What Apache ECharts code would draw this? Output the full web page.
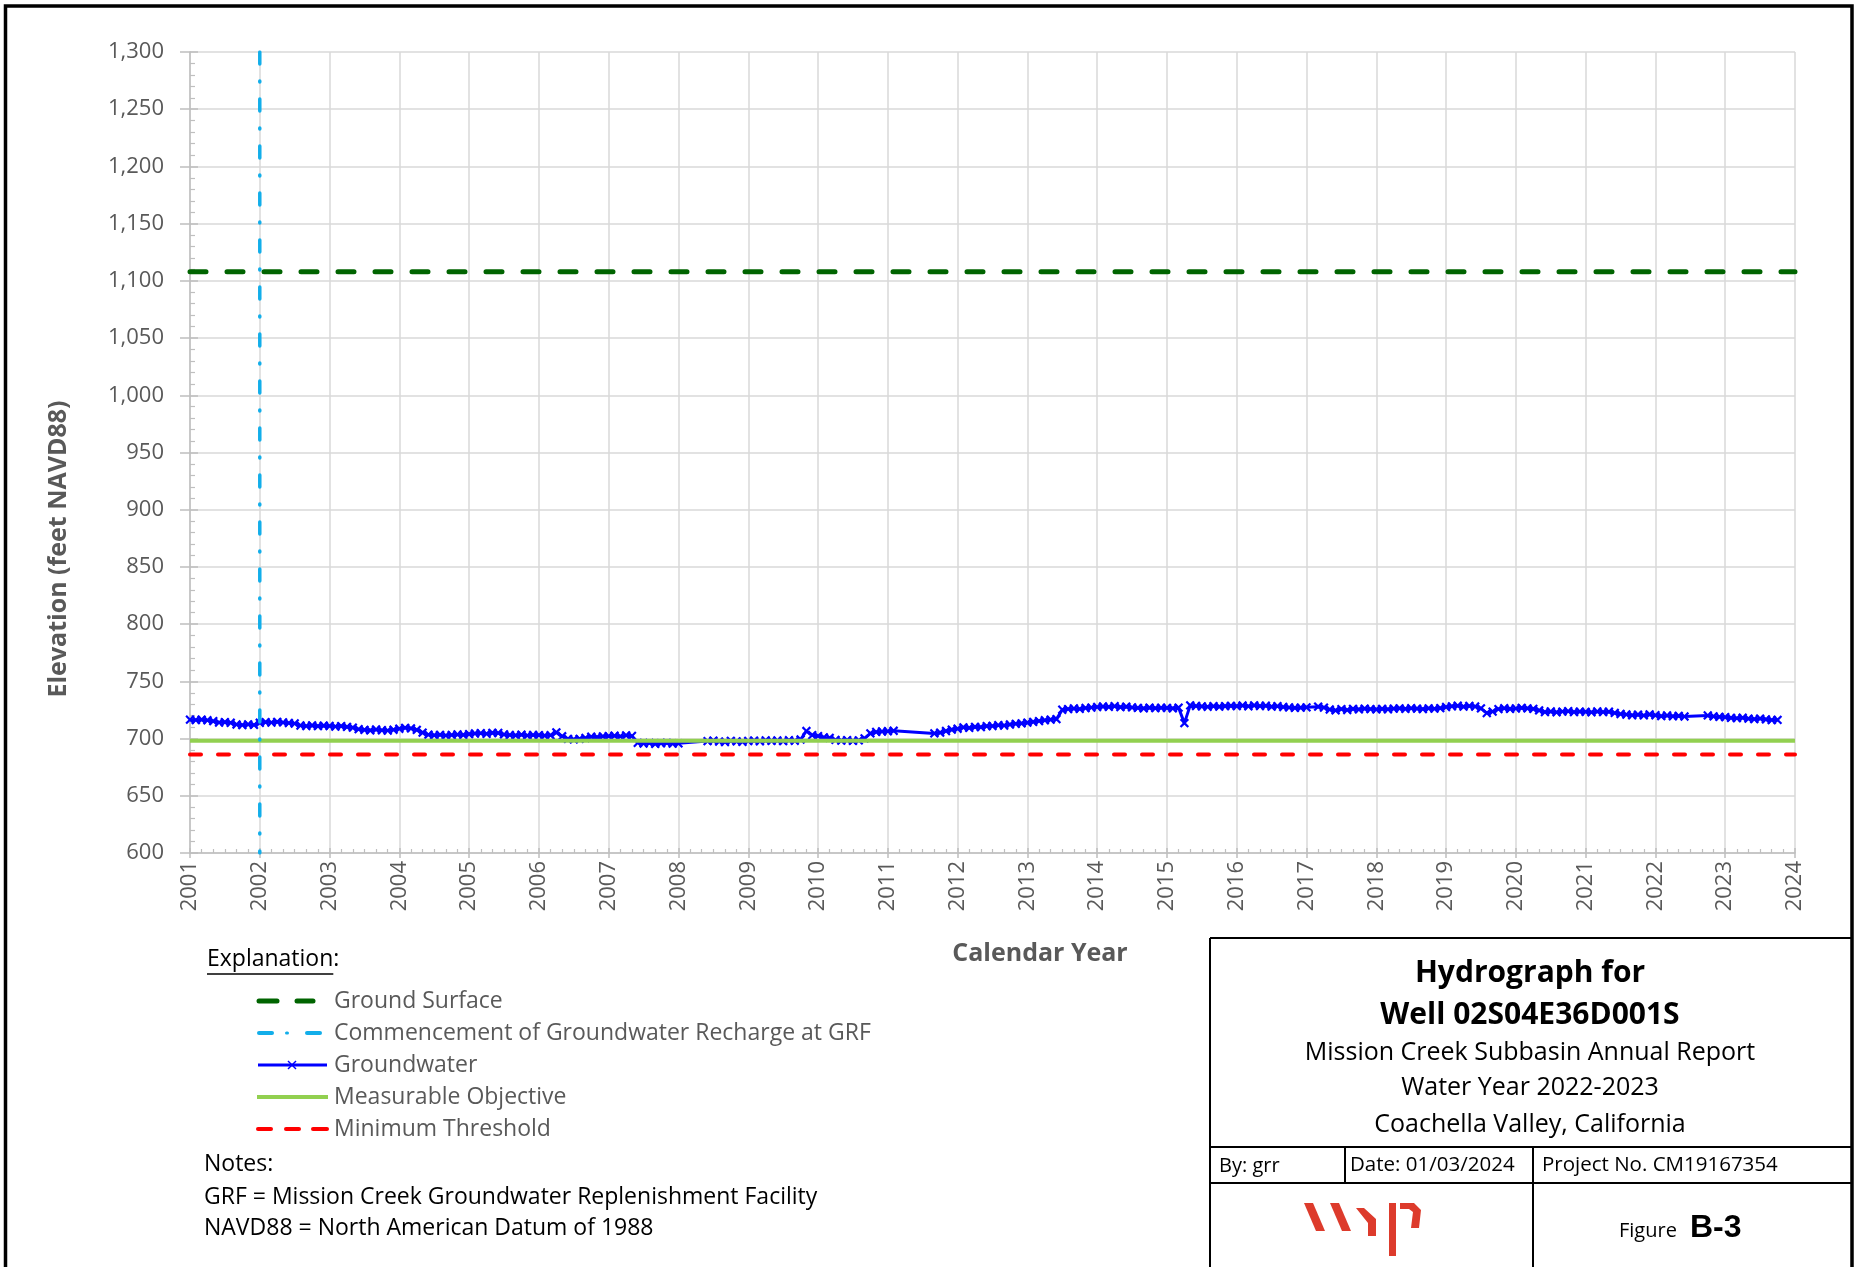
<!DOCTYPE html>
<html>
<head>
<meta charset="utf-8">
<script src="https://cdn.jsdelivr.net/npm/echarts@6/dist/echarts.min.js"></script>
<style>
html,body{margin:0;padding:0;background:#fff;}
#chart{width:1857px;height:1267px;}
</style>
</head>
<body>
<div id="chart"></div>
<script>
// ---------------- DATA ----------------
const xTickYears = [2001,2002,2003,2004,2005,2006,2007,2008,2009,2010,2011,2012,2013,2014,2015,2016,2017,2018,2019,2020,2021,2022,2023,2024];
const yTickValues = [600,650,700,750,800,850,900,950,1000,1050,1100,1150,1200,1250,1300];
const groundSurface = 1108;          // ft NAVD88
const measurableObjective = 698;     // ft NAVD88
const minimumThreshold = 686;        // ft NAVD88
const rechargeStartYear = 2002.0;    // commencement of recharge at GRF
const gwFirstYear = 2001;            // monthly readings start Jan 2001 (null = no reading)
const gwValues = [
  716.5,716.2,716.6,716.0,715.2,714.0,714.4,713.8,712.3,711.8,712.4,711.9, // 2001
  713.8,714.4,714.0,714.6,714.1,713.6,713.2,711.4,711.0,711.5,710.9,711.3, // 2002
  711.0,710.5,710.9,710.2,709.6,708.2,707.6,707.2,707.9,707.3,707.0,707.7, // 2003
  708.6,709.4,708.9,707.6,705.2,703.4,702.9,703.3,702.7,703.1,703.6,703.2, // 2004
  703.9,704.4,704.7,704.2,705.0,704.9,703.6,703.1,702.8,703.4,702.7,703.1, // 2005
  703.0,702.6,702.9,705.4,702.0,699.7,699.3,699.8,700.5,701.6,701.3,701.9, // 2006
  702.1,702.5,701.9,702.8,702.3,696.3,695.7,696.1,695.4,695.9,696.2,695.6, // 2007
  695.8,null,null,null,null,697.8,698.2,697.4,697.0,698.0,697.5,697.2,     // 2008
  697.9,698.2,697.6,698.4,698.0,698.3,697.7,698.5,698.1,699.2,706.6,703.0, // 2009
  702.2,701.0,700.6,698.8,698.2,698.6,698.0,698.4,700.2,704.5,705.8,706.2, // 2010
  706.4,706.8,null,null,null,null,null,null,704.5,705.2,706.6,707.8,       // 2011
  708.6,709.8,709.3,710.2,710.0,710.9,711.0,711.7,711.4,712.3,712.9,713.3, // 2012
  713.9,714.6,715.3,716.0,716.6,717.0,725.2,725.8,726.3,725.9,726.7,727.1, // 2013
  727.6,728.0,727.7,728.3,727.5,727.9,727.2,726.8,726.4,727.0,726.6,726.9, // 2014
  726.8,726.4,727.0,713.5,729.0,728.5,728.1,727.8,728.3,727.9,728.4,728.6, // 2015
  728.4,728.9,728.2,729.0,728.5,728.7,727.9,728.3,727.6,727.2,726.8,727.0, // 2016
  727.3,null,727.9,727.1,725.4,724.6,725.8,725.0,726.0,725.5,726.2,725.8,  // 2017
  725.5,726.0,725.6,726.2,726.4,726.0,726.5,726.2,725.8,726.4,726.1,726.6, // 2018
  727.6,728.2,728.7,727.9,728.5,728.0,726.4,722.3,723.6,725.8,726.5,726.0, // 2019
  726.3,726.8,726.4,726.0,724.6,723.2,723.7,723.0,723.6,723.9,723.2,723.6, // 2020
  723.4,723.0,723.7,723.2,723.5,722.4,721.5,721.0,720.4,720.9,720.2,721.1, // 2021
  720.4,719.6,720.2,719.5,719.8,719.3,null,null,null,720.2,719.4,719.0,    // 2022
  718.7,718.1,717.8,718.2,717.4,717.0,717.5,716.8,716.2,716.3,null,null    // 2023
];
const legendLabels = ['Ground Surface','Commencement of Groundwater Recharge at GRF','Groundwater','Measurable Objective','Minimum Threshold'];
const noteLines = ['Notes:','GRF = Mission Creek Groundwater Replenishment Facility','NAVD88 = North American Datum of 1988'];
const titleLines = ['Hydrograph for','Well 02S04E36D001S','Mission Creek Subbasin Annual Report','Water Year 2022-2023','Coachella Valley, California'];

// ---------------- BUILD ----------------
const xMin = xTickYears[0], xMax = xTickYears[xTickYears.length-1];
const yMin = yTickValues[0], yMax = yTickValues[yTickValues.length-1];
const gwData = [];
gwValues.forEach((v,i)=>{ if(v!==null) gwData.push([gwFirstYear + i/12, v]); });

const FONT = '"Open Sans", "Noto Sans", sans-serif';
const GRAY = '#595959';
const AXIS_GRAY = '#BFBFBF';
const GRID_GRAY = '#D9D9D9';
const cGS = '#006400', cRech = '#12AEEA', cGW = '#0000FF', cMO = '#92D050', cMT = '#FF0000';
const xMark = 'path://M4,0H6V4H10V6H6V10H4V6H0V4H4Z';

const chart = echarts.init(document.getElementById('chart'), null, {renderer:'canvas'});

function measure(text, font){
  const c = document.createElement('canvas').getContext('2d');
  c.font = font; return c.measureText(text).width;
}

const g = [];
// outer border
g.push({type:'rect', shape:{x:5.5,y:6,width:1846.5,height:1300}, style:{fill:null, stroke:'#000', lineWidth:3.5}, silent:true});
// axis titles
g.push({type:'text', x:59, y:549, rotation:Math.PI/2, style:{text:'Elevation (feet NAVD88)', font:'bold 25px '+FONT, fill:GRAY, textAlign:'center', textVerticalAlign:'middle'}});
g.push({type:'text', x:1040, y:954, style:{text:'Calendar Year', font:'bold 25px '+FONT, fill:GRAY, textAlign:'center', textVerticalAlign:'middle'}});
// explanation
const expFont = '23px '+FONT;
g.push({type:'text', x:207, y:959, style:{text:'Explanation:', font:expFont, fill:'#000', textAlign:'left', textVerticalAlign:'middle'}});
const expW = measure('Explanation', expFont);
g.push({type:'line', shape:{x1:207,y1:974,x2:207+expW,y2:974}, style:{stroke:'#000', lineWidth:1.5}});
const legY = [1001,1033,1065,1097,1129];
legendLabels.forEach((t,i)=>{
  g.push({type:'text', x:334, y:legY[i], style:{text:t, font:expFont, fill:GRAY, textAlign:'left', textVerticalAlign:'middle'}});
});
// legend samples
g.push({type:'line', shape:{x1:259,y1:legY[0],x2:277,y2:legY[0]}, style:{stroke:cGS, lineWidth:5, lineCap:'round'}});
g.push({type:'line', shape:{x1:297,y1:legY[0],x2:313,y2:legY[0]}, style:{stroke:cGS, lineWidth:5, lineCap:'round'}});
g.push({type:'line', shape:{x1:259,y1:legY[1],x2:272,y2:legY[1]}, style:{stroke:cRech, lineWidth:4, lineCap:'round'}});
g.push({type:'line', shape:{x1:286.5,y1:legY[1],x2:287.5,y2:legY[1]}, style:{stroke:cRech, lineWidth:3, lineCap:'round'}});
g.push({type:'line', shape:{x1:307,y1:legY[1],x2:320,y2:legY[1]}, style:{stroke:cRech, lineWidth:4, lineCap:'round'}});
g.push({type:'line', shape:{x1:258,y1:legY[2],x2:327,y2:legY[2]}, style:{stroke:cGW, lineWidth:3}});
g.push({type:'line', shape:{x1:288,y1:legY[2]-4,x2:296,y2:legY[2]+4}, style:{stroke:cGW, lineWidth:1.5}});
g.push({type:'line', shape:{x1:296,y1:legY[2]-4,x2:288,y2:legY[2]+4}, style:{stroke:cGW, lineWidth:1.5}});
g.push({type:'line', shape:{x1:257,y1:legY[3],x2:328,y2:legY[3]}, style:{stroke:cMO, lineWidth:4}});
[[258,271],[286,299],[313,327]].forEach(s=>g.push({type:'line', shape:{x1:s[0],y1:legY[4],x2:s[1],y2:legY[4]}, style:{stroke:cMT, lineWidth:4, lineCap:'round'}}));
// notes
const noteY = [1164,1197,1228];
noteLines.forEach((t,i)=>g.push({type:'text', x:204, y:noteY[i], style:{text:t, font:expFont, fill:'#000', textAlign:'left', textVerticalAlign:'middle'}}));
// title block frame
const L = {stroke:'#000', lineWidth:2};
g.push({type:'line', shape:{x1:1210,y1:938,x2:1852,y2:938}, style:L});
g.push({type:'line', shape:{x1:1210,y1:938,x2:1210,y2:1270}, style:L});
g.push({type:'line', shape:{x1:1210,y1:1147,x2:1852,y2:1147}, style:L});
g.push({type:'line', shape:{x1:1210,y1:1183,x2:1852,y2:1183}, style:L});
g.push({type:'line', shape:{x1:1345,y1:1147,x2:1345,y2:1183}, style:L});
g.push({type:'line', shape:{x1:1533,y1:1147,x2:1533,y2:1270}, style:L});
const tY = [973,1015,1053,1088,1125];
titleLines.forEach((t,i)=>g.push({type:'text', x:1530, y:tY[i], style:{text:t, font:(i<2?'bold 30px ':'25px ')+FONT, fill:'#000', textAlign:'center', textVerticalAlign:'middle'}}));
g.push({type:'text', x:1219, y:1166, style:{text:'By: grr', font:'20px '+FONT, fill:'#000', textAlign:'left', textVerticalAlign:'middle'}});
g.push({type:'text', x:1350, y:1165, style:{text:'Date: 01/03/2024', font:'20.5px '+FONT, fill:'#000', textAlign:'left', textVerticalAlign:'middle'}});
g.push({type:'text', x:1542, y:1165, style:{text:'Project No. CM19167354', font:'20.5px '+FONT, fill:'#000', textAlign:'left', textVerticalAlign:'middle'}});
g.push({type:'text', x:1619, y:1231, style:{text:'Figure', font:'20px '+FONT, fill:'#000', textAlign:'left', textVerticalAlign:'middle'}});
g.push({type:'text', x:1690, y:1228, style:{text:'B-3', font:'bold 32px "Liberation Sans", Arial, sans-serif', fill:'#000', textAlign:'left', textVerticalAlign:'middle'}});
// wsp logo (approximate shapes)
const cLogo = '#DD3B2C';
g.push({type:'polygon', shape:{points:[[1304,1203],[1313,1203],[1325,1231],[1316,1231]]}, style:{fill:cLogo}});
g.push({type:'polygon', shape:{points:[[1330,1203],[1339,1203],[1351,1231],[1342,1231]]}, style:{fill:cLogo}});
g.push({type:'polygon', shape:{points:[[1356,1208],[1364,1208],[1376,1219],[1376,1236],[1368,1236],[1368,1223]]}, style:{fill:cLogo}});
g.push({type:'polygon', shape:{points:[[1389,1203],[1396,1203],[1396,1256],[1389,1256]]}, style:{fill:cLogo}});
g.push({type:'polygon', shape:{points:[[1400,1203],[1414,1203],[1421,1210],[1419,1228],[1411,1228],[1413,1212],[1409,1209],[1400,1209]]}, style:{fill:cLogo}});

const labelStyle = {color:GRAY, fontFamily:FONT, fontSize:22};

const option = {
  animation:false,
  backgroundColor:'#fff',
  grid:{left:190, top:52, width:1605, height:801},
  xAxis:[
    {type:'value', min:xMin, max:xMax, interval:1, position:'bottom',
     axisLine:{show:true, onZero:false, lineStyle:{color:AXIS_GRAY, width:1.5}},
     axisTick:{show:true, length:5, lineStyle:{color:AXIS_GRAY, width:1.5}},
     axisLabel:Object.assign({rotate:90, margin:8, formatter:v=>String(v), showMinLabel:true, showMaxLabel:true}, labelStyle),
     splitLine:{show:true, lineStyle:{color:GRID_GRAY, width:1.5}}},
    {type:'value', min:xMin, max:xMax, interval:1, position:'bottom', offset:0,
     axisLine:{show:false, onZero:false}, axisLabel:{show:false}, splitLine:{show:false},
     axisTick:{show:true, inside:true, length:5, lineStyle:{color:AXIS_GRAY, width:1.5}},
     minorTick:{show:true, splitNumber:6, length:4, lineStyle:{color:AXIS_GRAY, width:1.2}}}
  ],
  yAxis:[
    {type:'value', min:yMin, max:yMax, interval:50, position:'left',
     axisLine:{show:true, onZero:false, lineStyle:{color:AXIS_GRAY, width:1.5}},
     axisTick:{show:true, length:10, lineStyle:{color:AXIS_GRAY, width:1.5}},
     axisLabel:Object.assign({margin:26, formatter:v=>v.toLocaleString('en-US')}, labelStyle),
     splitLine:{show:true, lineStyle:{color:GRID_GRAY, width:1.5}}},
    {type:'value', min:yMin, max:yMax, interval:50, position:'left', offset:0,
     axisLine:{show:false, onZero:false}, axisLabel:{show:false}, splitLine:{show:false},
     axisTick:{show:true, inside:true, length:8, lineStyle:{color:AXIS_GRAY, width:1.5}},
     minorTick:{show:true, splitNumber:5, length:5, lineStyle:{color:AXIS_GRAY, width:1.2}}}
  ],
  series:[
    {name:'Ground Surface', type:'line', xAxisIndex:0, yAxisIndex:0, symbol:'none', silent:true,
     data:[[xMin, groundSurface],[xMax, groundSurface]],
     lineStyle:{color:cGS, width:5, type:[16,21], cap:'round'}},
    {name:'Groundwater', type:'line', xAxisIndex:0, yAxisIndex:0, data:gwData, z:2,
     symbol:xMark, symbolSize:11, symbolRotate:45, showAllSymbol:true,
     itemStyle:{color:cGW}, lineStyle:{color:cGW, width:3}},
    {name:'Measurable Objective', type:'line', xAxisIndex:0, yAxisIndex:0, symbol:'none', silent:true, z:3,
     data:[[xMin, measurableObjective],[xMax, measurableObjective]],
     lineStyle:{color:cMO, width:4}},
    {name:'Minimum Threshold', type:'line', xAxisIndex:0, yAxisIndex:0, symbol:'none', silent:true, z:3,
     data:[[xMin, minimumThreshold],[xMax, minimumThreshold]],
     lineStyle:{color:cMT, width:4, type:[11,17], cap:'round'}},
    {name:'Commencement of Groundwater Recharge at GRF', type:'line', xAxisIndex:0, yAxisIndex:0, symbol:'none', silent:true, z:4,
     data:[[rechargeStartYear, yMax],[rechargeStartYear, yMin]],
     lineStyle:{color:cRech, width:3.5, type:[12,17,1,17], cap:'round'}}
  ],
  graphic:g
};
chart.setOption(option);
</script>
</body>
</html>
